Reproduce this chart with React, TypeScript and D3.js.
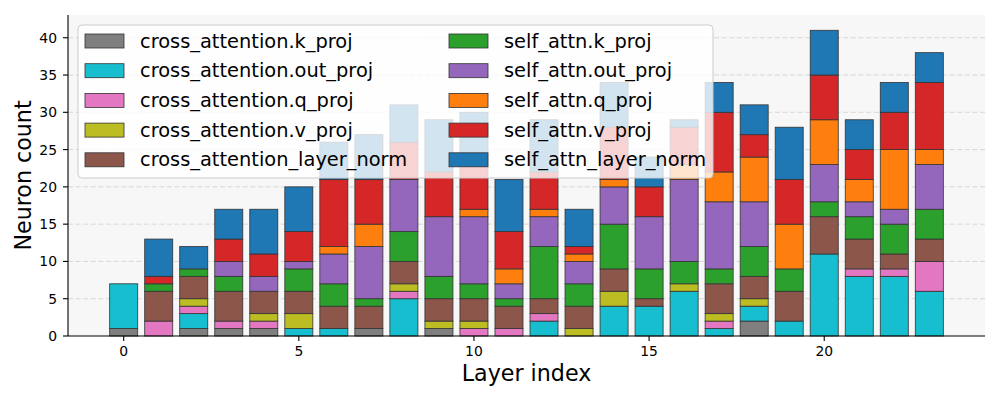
import React from "react";
import * as d3 from "d3";

const layers = d3.range(24);
const seriesNames = [
  "cross_attention.k_proj",
  "cross_attention.out_proj",
  "cross_attention.q_proj",
  "cross_attention.v_proj",
  "cross_attention_layer_norm",
  "self_attn.k_proj",
  "self_attn.out_proj",
  "self_attn.q_proj",
  "self_attn.v_proj",
  "self_attn_layer_norm",
];
const seriesColors = [
  "#7f7f7f", "#17becf", "#e377c2", "#bcbd22", "#8c564b",
  "#2ca02c", "#9467bd", "#ff7f0e", "#d62728", "#1f77b4",
];
const caK = [1,0,1,1,1,0, 0,1,0,1,0,0, 0,0,0,0,0,0, 2,0,0,0,0,0];
const caOut = [6,0,2,0,0,1, 1,0,5,0,0,0, 2,0,4,4,6,1, 2,2,11,8,8,6];
const caQ = [0,2,1,1,1,0, 0,0,1,0,1,1, 1,0,0,0,0,1, 0,0,0,1,1,4];
const caV = [0,0,1,0,1,2, 0,0,1,1,1,0, 0,1,2,0,1,1, 1,0,0,0,0,0];
const caLn = [0,4,3,4,3,3, 3,3,3,3,3,3, 2,3,3,1,0,4, 3,4,5,4,2,3];
const saK = [0,1,1,2,0,3, 3,1,4,3,2,1, 7,3,6,4,3,2, 4,3,2,3,4,4];
const saOut = [0,0,0,2,2,1, 4,7,7,8,9,2, 4,3,5,7,11,9, 6,0,5,2,2,6];
const saQ = [0,0,0,0,0,0, 1,3,0,0,1,2, 1,1,1,0,2,4, 6,6,6,3,8,2];
const saV = [0,1,0,3,3,4, 9,6,5,6,6,5, 5,1,7,4,5,8, 3,6,6,4,5,9];
const saLn = [0,5,3,4,6,6, 5,6,5,7,7,7, 7,5,6,4,1,4, 4,7,6,4,4,4];
const seriesValues = [caK, caOut, caQ, caV, caLn, saK, saOut, saQ, saV, saLn];
const yTicks = [0, 5, 10, 15, 20, 25, 30, 35, 40];
const xTicks = [0, 5, 10, 15, 20];

const FONT = "DejaVu Sans, sans-serif";

export default function App() {
  const left = 68, right = 985, top = 15, bottom = 336;
  const barW = 0.8;
  const totals = layers.map((i) => d3.sum(seriesValues, (s) => s[i]));
  const yMax = (d3.max(totals) as number) * 1.05;
  const x0 = -barW / 2, x1 = layers.length - 1 + barW / 2;
  const pad = (x1 - x0) * 0.05;
  const x = d3.scaleLinear().domain([x0 - pad, x1 + pad]).range([left, right]);
  const y = d3.scaleLinear().domain([0, yMax]).range([bottom, top]);

  const table = layers.map((i) => {
    const row: Record<string, number> = { layer: i };
    seriesNames.forEach((n, k) => (row[n] = seriesValues[k][i]));
    return row;
  });
  const stacked = d3.stack<Record<string, number>>().keys(seriesNames)(table);

  const legLeft = 78, legTop = 25, legRight = 713, legBottom = 178;
  const rowH = 29.7;
  const colX = [85, 449];

  return (
    <div style={{ position: "absolute", left: 0, top: 0 }}>
      <svg width={1000} height={400} style={{ display: "block", background: "#fff" }}>
        <rect x={left} y={top} width={right - left} height={bottom - top} fill="#f7f7f7" />
        {yTicks.filter((t) => t > 0).map((t) => (
          <line key={"g" + t} x1={left} x2={right} y1={y(t)} y2={y(t)}
            stroke="#cfcfcf" strokeWidth={0.8} strokeDasharray="5,2.6" />
        ))}
        {stacked.map((s, k) => (
          <g key={s.key}>
            {s.map((d, i) =>
              d[1] - d[0] > 0 ? (
                <rect key={i}
                  x={x(i - barW / 2)} width={x(i + barW / 2) - x(i - barW / 2)}
                  y={y(d[1])} height={y(d[0]) - y(d[1])}
                  fill={seriesColors[k]} stroke="#333" strokeWidth={0.8} />
              ) : null
            )}
          </g>
        ))}
        {/* axes */}
        <line x1={left} x2={left} y1={top} y2={bottom} stroke="#000" strokeWidth={1.1} />
        <line x1={left} x2={right} y1={bottom} y2={bottom} stroke="#000" strokeWidth={1.1} />
        {yTicks.map((t) => (
          <g key={"y" + t}>
            <line x1={left - 5} x2={left} y1={y(t)} y2={y(t)} stroke="#000" strokeWidth={1.1} />
            <text x={left - 11} y={y(t)} textAnchor="end" dominantBaseline="central"
              fontFamily={FONT} fontSize={13.9} fill="#000">{t}</text>
          </g>
        ))}
        {xTicks.map((t) => (
          <g key={"x" + t}>
            <line x1={x(t)} x2={x(t)} y1={bottom} y2={bottom + 5} stroke="#000" strokeWidth={1.1} />
            <text x={x(t)} y={bottom + 20} textAnchor="middle"
              fontFamily={FONT} fontSize={13.9} fill="#000">{t}</text>
          </g>
        ))}
        <text x={(left + right) / 2} y={381} textAnchor="middle" fontFamily={FONT}
          fontSize={22.2} fill="#000">Layer index</text>
        <text transform={`translate(31,${(top + bottom) / 2}) rotate(-90)`} textAnchor="middle"
          fontFamily={FONT} fontSize={22.2} fill="#000">Neuron count</text>
        {/* legend */}
        <rect x={legLeft} y={legTop} width={legRight - legLeft} height={legBottom - legTop}
          rx={4} fill="#fff" fillOpacity={0.8} stroke="#cccccc" strokeWidth={1} />
        {seriesNames.map((n, k) => {
          const col = Math.floor(k / 5), row = k % 5;
          const cy = 41 + row * rowH;
          return (
            <g key={"l" + n}>
              <rect x={colX[col]} y={cy - 7} width={39} height={14}
                fill={seriesColors[k]} stroke="#333" strokeWidth={0.8} />
              <text x={colX[col] + 55} y={cy} dominantBaseline="central"
                fontFamily={FONT} fontSize={19.4} fill="#000">{n}</text>
            </g>
          );
        })}
      </svg>
    </div>
  );
}
